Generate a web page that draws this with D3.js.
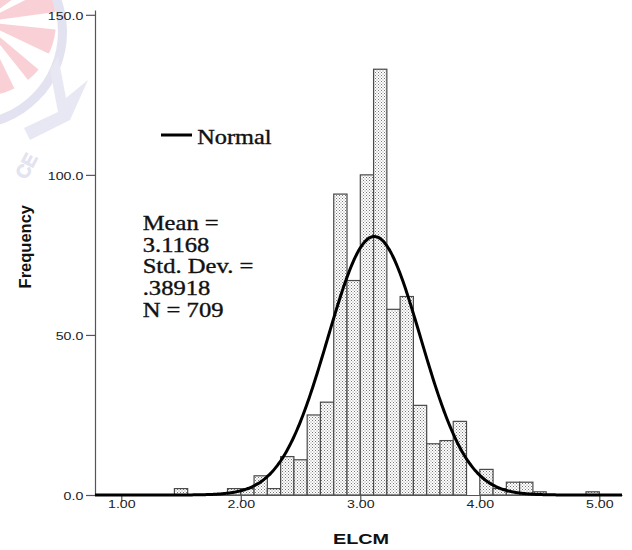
<!DOCTYPE html>
<html>
<head>
<meta charset="utf-8">
<script src="https://cdn.jsdelivr.net/npm/d3@7"></script>
<style>
  html, body { margin: 0; padding: 0; background: #fff; }
  svg { display: block; }
</style>
</head>
<body>
<svg id="chart" width="632" height="550"></svg>
<script>
// Histogram of ELCM with fitted normal curve
const binOrigin = 1.0;        // lower edge of the first bin
const binWidth = 1 / 9;       // bin width on the ELCM scale
const frequencies = [
  0, 0, 0, 0, 2, 0, 0, 0, 2, 2,
  6, 2, 12, 11, 25, 29, 94, 67, 100, 133,
  58, 62, 28, 16, 17, 23, 0, 8, 2, 4,
  4, 1, 0, 0, 0, 1
];
const xTicks = [1, 2, 3, 4, 5];
const yTicks = [0, 50, 100, 150];
const stats = { mean: 3.1168, sd: 0.38918, n: 709 };
const statLines = ["Mean =", "3.1168", "Std. Dev. =", ".38918", "N = 709"];

const svg = d3.select("#chart");

// Faint crest in the top-left corner
const crest = svg.append("g").attr("opacity", 0.5);
crest.append("circle").attr("cx", -18).attr("cy", 22).attr("r", 74)
  .attr("fill", "#f2a3ac");
[[[-18, 22], [70, 10], [60, 30]], [[-18, 22], [40, 95], [20, 100]],
 [[-18, 22], [58, 58], [45, 75]], [[-18, 22], [25, -10], [45, -10]]]
  .forEach(p => crest.append("polygon").attr("points", p.join(" ")).attr("fill", "#fff"));
crest.append("path")
  .attr("d", d3.arc()({ innerRadius: 88, outerRadius: 97, startAngle: 0, endAngle: Math.PI }))
  .attr("transform", "translate(-30,32)")
  .attr("fill", "#c7c7e2");
crest.append("path")
  .attr("d", "M58,56 L66,98 L88,80 L70,120 L30,140 L24,128 L58,112 L50,70 Z")
  .attr("fill", "#d3d3ea");
crest.append("text").attr("transform", "translate(26,180) rotate(-62)")
  .attr("font-family", "Liberation Sans, Arial, sans-serif").attr("font-size", 18)
  .attr("fill", "none").attr("stroke", "#c7c7e2").attr("stroke-width", 1.5)
  .text("CE");

// Stipple fill for the bars
const defs = svg.append("defs");
const pat = defs.append("pattern").attr("id", "stipple")
  .attr("patternUnits", "userSpaceOnUse").attr("width", 3).attr("height", 3);
pat.append("rect").attr("width", 3).attr("height", 3).attr("fill", "#fff");
pat.append("rect").attr("x", 0).attr("y", 0).attr("width", 1).attr("height", 1).attr("fill", "#777");
pat.append("rect").attr("x", 1.5).attr("y", 1.5).attr("width", 1).attr("height", 1).attr("fill", "#888");

const x = d3.scaleLinear().domain([0.78, 5.19]).range([95, 622]);
const y = d3.scaleLinear().domain([0, 151.5]).range([495, 10]);

const bins = frequencies.map((f, i) => ({
  x0: binOrigin + i * binWidth,
  x1: binOrigin + (i + 1) * binWidth,
  f
})).filter(d => d.f > 0);

svg.append("g").selectAll("rect").data(bins).join("rect")
  .attr("x", d => x(d.x0))
  .attr("y", d => y(d.f))
  .attr("width", d => x(d.x1) - x(d.x0))
  .attr("height", d => y(0) - y(d.f))
  .attr("fill", "url(#stipple)")
  .attr("stroke", "#4a4a4a")
  .attr("stroke-width", 1.2);

// Axes
const sans = "Liberation Sans, Arial, sans-serif";
const serif = "Liberation Serif, Times New Roman, serif";

const yAxis = svg.append("g").attr("transform", "translate(95,0)")
  .call(d3.axisLeft(y).tickValues(yTicks).tickFormat(d3.format(".1f")).tickSize(9).tickSizeOuter(0));
const xAxis = svg.append("g").attr("transform", "translate(0,495)")
  .call(d3.axisBottom(x).tickValues(xTicks).tickFormat(d3.format(".2f")).tickSize(7).tickSizeOuter(0));

[yAxis, xAxis].forEach(a => {
  a.select(".domain").attr("stroke", "#555").attr("stroke-width", 1.2);
  a.selectAll(".tick line").attr("stroke", "#555").attr("stroke-width", 1.2);
  a.selectAll(".tick text").attr("font-family", sans).attr("font-size", 11.8).attr("fill", "#222");
});
yAxis.selectAll(".tick text").attr("x", -9.8).attr("dy", "0.36em")
  .attr("transform", "scale(1.2,1)");
xAxis.selectAll(".tick text").attr("y", 0).attr("dy", 0)
  .attr("transform", "translate(0,12.6) scale(1.2,1)");

// Normal curve
const pdf = v => stats.n * binWidth / (stats.sd * Math.sqrt(2 * Math.PI)) *
  Math.exp(-0.5 * Math.pow((v - stats.mean) / stats.sd, 2));
const curveX = d3.range(x.domain()[0], x.domain()[1] + 0.001, 0.01);
svg.append("path")
  .datum(curveX)
  .attr("d", d3.line().x(v => x(v)).y(v => y(pdf(v))).curve(d3.curveBasis))
  .attr("fill", "none").attr("stroke", "#000").attr("stroke-width", 3);

// Axis titles
svg.append("text")
  .attr("transform", "translate(361,544) scale(1.28,1)")
  .attr("text-anchor", "middle")
  .attr("font-family", sans).attr("font-weight", "bold").attr("font-size", 15.5)
  .attr("fill", "#111").text("ELCM");
svg.append("text")
  .attr("transform", "translate(31,246.7) rotate(-90)")
  .attr("text-anchor", "middle")
  .attr("font-family", sans).attr("font-weight", "bold").attr("font-size", 16.5)
  .attr("fill", "#111").text("Frequency");

// Legend
svg.append("line").attr("x1", 161).attr("x2", 192).attr("y1", 135).attr("y2", 135)
  .attr("stroke", "#000").attr("stroke-width", 3);
svg.append("text")
  .attr("transform", "translate(197.3,144) scale(1.216,1)")
  .attr("font-family", serif).attr("font-size", 20).attr("fill", "#111")
  .attr("stroke", "#111").attr("stroke-width", 0.35)
  .text("Normal");

// Summary statistics
svg.append("g").selectAll("text").data(statLines).join("text")
  .attr("transform", (d, i) => `translate(142.7,${230 + i * 21.7}) scale(1.2,1)`)
  .attr("font-family", serif).attr("font-size", 20.5).attr("fill", "#111")
  .attr("stroke", "#111").attr("stroke-width", 0.35)
  .text(d => d);
</script>
</body>
</html>
